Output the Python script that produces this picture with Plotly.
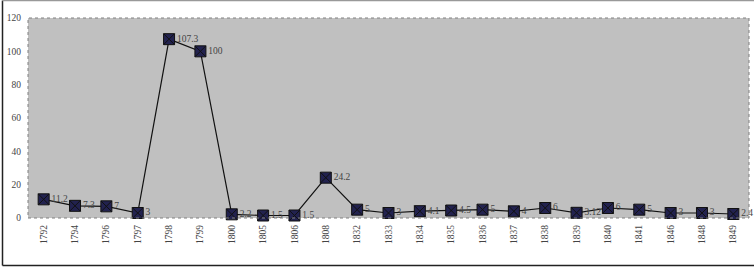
import plotly.graph_objects as go

years = ["1792", "1794", "1796", "1797", "1798", "1799", "1800", "1805", "1806", "1808",
         "1832", "1833", "1834", "1835", "1836", "1837", "1838", "1839", "1840", "1841",
         "1846", "1848", "1849"]
values = [11.2, 7.3, 7, 3, 107.3, 100, 2.2, 1.5, 1.5, 24.2,
          5, 3, 4.1, 4.5, 5, 4, 6, 3.12, 6, 5,
          3, 3, 2.4]
labels = [str(v) for v in values]
y_ticks = [0, 20, 40, 60, 80, 100, 120]

W, H = 754, 267
L, R, T, B = 28, 5, 18, 49
pw = W - L - R
ph = H - T - B

fig = go.Figure()
fig.add_trace(go.Scatter(
    x=years, y=values, mode="lines+markers+text",
    text=labels, textposition="middle right",
    textfont=dict(family="Liberation Serif", size=9.5, color="#444444"),
    line=dict(color="#111111", width=1.2),
    marker=dict(symbol="square-x", size=11, color="#22224f",
                line=dict(color="#111111", width=1)),
    cliponaxis=False,
))

fig.update_layout(
    width=W, height=H,
    margin=dict(l=L, r=R, t=T, b=B, autoexpand=False),
    paper_bgcolor="white",
    plot_bgcolor="#c0c0c0",
    showlegend=False,
    font=dict(family="Liberation Serif", size=9.5, color="#444444"),
    xaxis=dict(type="category", tickangle=-90, showgrid=False, zeroline=False,
               showline=False, ticks="", automargin=False, ticklabelstandoff=4,
               tickfont=dict(size=9.5, color="#444444"),
               range=[-0.5, len(years) - 0.5]),
    yaxis=dict(range=[0, 120], tickvals=y_ticks, showgrid=False, zeroline=False,
               showline=False, ticks="", automargin=False, ticklabelstandoff=6,
               tickfont=dict(size=9.5, color="#444444")),
    shapes=[
        dict(type="rect", xref="paper", yref="paper", x0=0, y0=0, x1=1, y1=1,
             line=dict(color="#808080", width=1, dash="dot")),
        # outer frame
        dict(type="line", xref="paper", yref="paper",
             x0=(2.5 - L) / pw, x1=(2.5 - L) / pw,
             y0=(H - B - 265.5) / ph, y1=(H - B - 0.5) / ph,
             line=dict(color="#222222", width=1.5)),
        dict(type="line", xref="paper", yref="paper",
             x0=(2.5 - L) / pw, x1=(W - L) / pw,
             y0=(H - B - 265.5) / ph, y1=(H - B - 265.5) / ph,
             line=dict(color="#222222", width=1.5)),
        dict(type="line", xref="paper", yref="paper",
             x0=(2.5 - L) / pw, x1=(W - L) / pw,
             y0=(H - B - 0.5) / ph, y1=(H - B - 0.5) / ph,
             line=dict(color="#999999", width=1.5)),
    ],
)

fig.write_html("out.html", config={"displayModeBar": False},
               post_script="document.body.style.margin='0';document.body.style.overflow='hidden';")
